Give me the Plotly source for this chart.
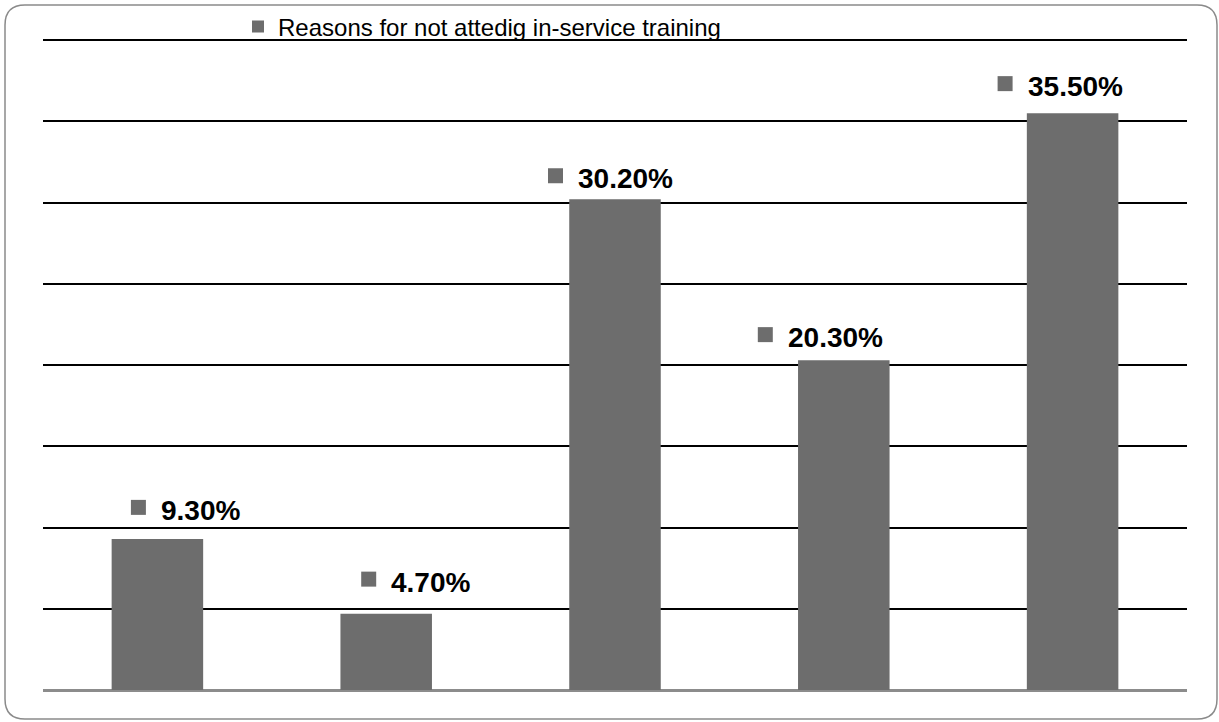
import plotly.graph_objects as go

# ---- data ----
categories = ["A", "B", "C", "D", "E"]
values = [9.3, 4.7, 30.2, 20.3, 35.5]
value_labels = ["9.30%", "4.70%", "30.20%", "20.30%", "35.50%"]
series_name = "Reasons for not attedig in-service training"

# ---- styles / label placement (pixels relative to bar centre / top) ----
label_dx = [1.5, 3, -39, -58, -47]     # text left edge offset from bar centre
label_dy = [18, 21, 10, 12, 16]        # baseline distance above bar top
BAR_COLOR = "#6d6d6d"
FONT = "Liberation Sans, Arial, sans-serif"

W, H = 1219, 722
ML, MR, MT, MB = 43, 32, 36, 32
PW, PH = W - ML - MR, H - MT - MB
Y_TOP = 40 + 4 / 16.25   # keeps the 40% gridline 4px inside the plot area

fig = go.Figure()
fig.add_trace(go.Bar(
    x=categories, y=values, name=series_name,
    marker=dict(color=BAR_COLOR, line=dict(width=0)),
    showlegend=True,
))

BASE_SHIFT = 7
for i, (c, v, t) in enumerate(zip(categories, values, value_labels)):
    fig.add_annotation(
        x=c, y=v, xref="x", yref="y", text="<b>" + t + "</b>",
        showarrow=False, xanchor="left", yanchor="bottom",
        xshift=label_dx[i], yshift=label_dy[i] - BASE_SHIFT,
        font=dict(family=FONT, size=28, color="#000000"),
    )
    fig.add_shape(
        type="rect", xref="x", yref="y",
        xsizemode="pixel", ysizemode="pixel",
        xanchor=c, yanchor=v,
        x0=label_dx[i] - 28, x1=label_dx[i] - 13,
        y0=label_dy[i] + 6, y1=label_dy[i] + 21,
        fillcolor=BAR_COLOR, line=dict(width=0),
    )

# rounded outer border (decoration), pixel -> paper
def px(xp):
    return (xp - ML) / PW

def py(yp):
    return (H - MB - yp) / PH

x0b, x1b, y0b, y1b, r = 5, 1217, 5, 719, 20
path = (
    f"M {px(x0b + r)},{py(y0b)} L {px(x1b - r)},{py(y0b)} "
    f"Q {px(x1b)},{py(y0b)} {px(x1b)},{py(y0b + r)} "
    f"L {px(x1b)},{py(y1b - r)} Q {px(x1b)},{py(y1b)} {px(x1b - r)},{py(y1b)} "
    f"L {px(x0b + r)},{py(y1b)} Q {px(x0b)},{py(y1b)} {px(x0b)},{py(y1b - r)} "
    f"L {px(x0b)},{py(y0b + r)} Q {px(x0b)},{py(y0b)} {px(x0b + r)},{py(y0b)} Z"
)
fig.add_shape(type="path", xref="paper", yref="paper", path=path,
              line=dict(color="#8a8a8a", width=1.5), fillcolor="rgba(0,0,0,0)",
              layer="above")

fig.update_layout(
    width=W, height=H,
    margin=dict(l=ML, r=MR, t=MT, b=MB, pad=0, autoexpand=False),
    paper_bgcolor="white", plot_bgcolor="white",
    bargap=0.6,
    font=dict(family=FONT, color="#000000"),
    legend=dict(
        orientation="h", x=px(238), xanchor="left",
        y=py(27), yanchor="middle",
        font=dict(family=FONT, size=24, color="#000000"),
        bgcolor="rgba(0,0,0,0)", borderwidth=0,
    ),
    xaxis=dict(showticklabels=False, ticks="", showgrid=False, showline=False,
               zeroline=False),
    yaxis=dict(range=[0, Y_TOP], tick0=0, dtick=5, showticklabels=False, ticks="",
               showgrid=True, gridcolor="#000000", gridwidth=2,
               zeroline=True, zerolinecolor="#8c8c8c", zerolinewidth=3,
               showline=False),
)

fig.write_html("out.html")
